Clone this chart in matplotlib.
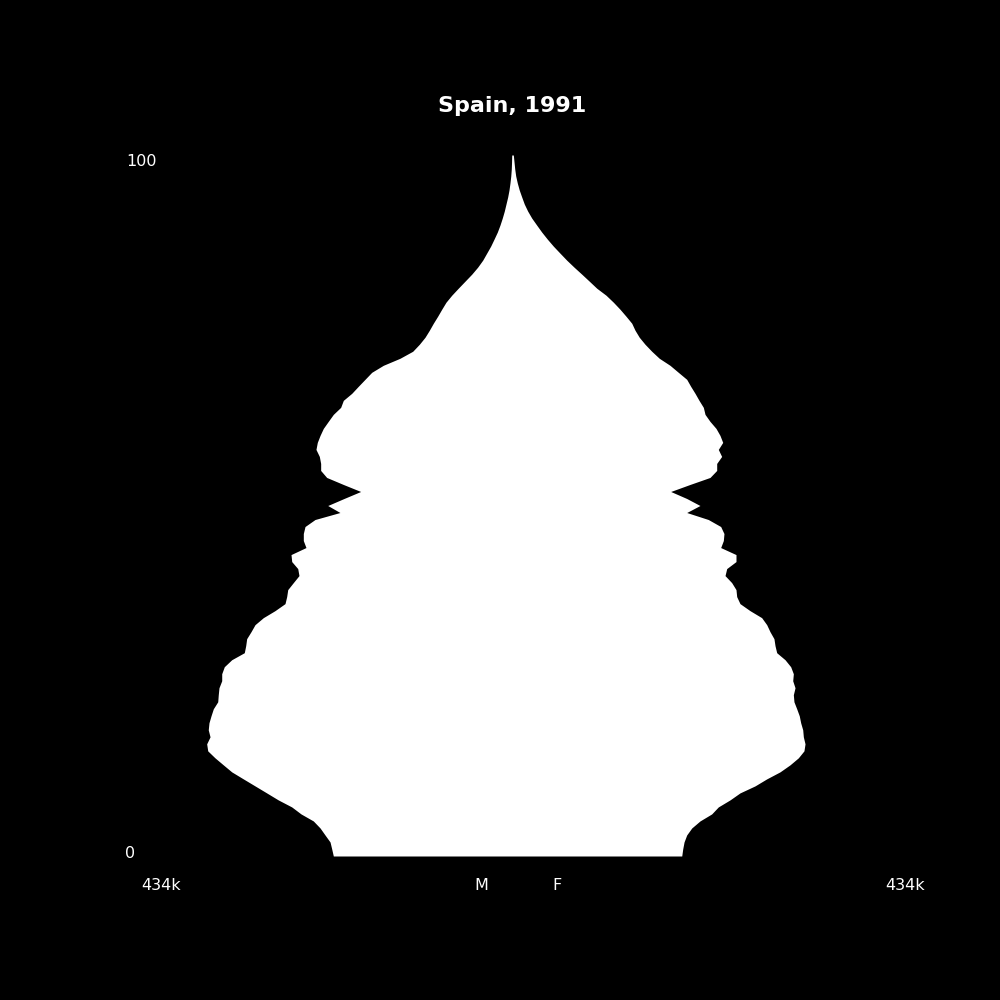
import matplotlib
matplotlib.use("Agg")
import matplotlib.pyplot as plt
import numpy as np

ages = list(range(0, 101))

# population in thousands, ages 0..100
male = [201.9, 203.7, 205.6, 211.3, 216.9, 224.5, 238.4, 248.9, 264.1, 277.2,
        290.4, 303.6, 316.7, 326.2, 335.6, 343.8, 345.0, 341.2, 343.2, 342.4,
        340.1, 337.5, 332.5, 331.9, 331.1, 328.0, 328.0, 325.1, 316.7, 302.5,
        300.9, 299.8, 294.9, 290.4, 281.0, 267.8, 256.5, 254.6, 253.4, 247.1,
        240.7, 242.1, 248.9, 249.7, 232.8, 235.8, 235.8, 233.9, 222.6, 194.4,
        208.2, 189.8, 171.0, 190.6, 209.4, 216.2, 216.2, 217.7, 221.5, 220.0,
        216.9, 213.2, 207.6, 201.9, 193.6, 190.6, 181.1, 173.7, 166.1, 158.5,
        145.4, 126.6, 112.2, 104.7, 98.3, 93.4, 88.9, 84.0, 79.4, 74.6,
        68.1, 60.7, 53.1, 45.5, 38.8, 33.1, 28.6, 24.1, 20.3, 16.6,
        13.6, 11.0, 8.7, 6.8, 4.9, 3.4, 2.3, 1.4, 0.8, 0.5,
        0.3]

female = [191.8, 192.9, 194.4, 197.4, 203.1, 212.4, 225.6, 233.1, 246.3, 257.6,
          274.6, 287.8, 302.8, 314.1, 323.5, 329.9, 331.1, 329.2, 328.5, 326.2,
          324.6, 321.7, 318.6, 317.9, 319.8, 317.2, 317.9, 314.9, 308.5, 299.1,
          297.2, 296.0, 291.5, 287.8, 282.1, 268.9, 257.6, 253.9, 253.1, 248.2,
          240.7, 242.6, 253.1, 253.1, 235.8, 238.8, 239.5, 235.8, 221.8, 197.4,
          212.4, 197.4, 179.3, 201.1, 223.7, 231.3, 231.3, 236.9, 233.1, 238.1,
          235.0, 230.5, 223.7, 218.1, 216.2, 211.3, 206.8, 201.9, 197.4, 187.9,
          178.5, 166.4, 157.9, 150.3, 143.8, 139.0, 135.3, 128.8, 122.0, 114.5,
          106.2, 95.7, 87.3, 78.8, 70.1, 61.8, 54.2, 46.7, 39.9, 33.6,
          27.9, 22.3, 17.7, 13.9, 11.0, 8.2, 6.0, 4.2, 3.1, 2.3,
          1.5]

title = "Spain, 1991"
xmax_label = "434k"
xmax = 434

plt.rcParams['font.family'] = ['DejaVu Sans']

fig = plt.figure(figsize=(10, 10), dpi=100, facecolor='black')
px_per_k = 0.885
center = 512.0
half = px_per_k * xmax
ax = fig.add_axes([(center - half) / 1000, 0.144, 2 * half / 1000, 0.701])
ax.set_facecolor('black')
ax.fill_betweenx(ages, -np.array(male), np.array(female), color='white', lw=0)
ax.set_xlim(-xmax, xmax)
ax.set_ylim(0, 100)
ax.axis('off')

fig.text(0.512, 1 - 0.1055, title, color='white', fontsize=16, fontweight='bold',
         ha='center', va='center')
fig.text(0.126, 1 - 0.1615, "100", color='white', fontsize=11.5, ha='left', va='center')
fig.text(0.125, 1 - 0.854, "0", color='white', fontsize=11.5, ha='left', va='center')
fig.text(0.161, 1 - 0.8855, xmax_label, color='white', fontsize=11.5, ha='center', va='center')
fig.text(0.905, 1 - 0.8855, xmax_label, color='white', fontsize=11.5, ha='center', va='center')
fig.text(0.4815, 1 - 0.8855, "M", color='white', fontsize=11.5, ha='center', va='center')
fig.text(0.557, 1 - 0.8855, "F", color='white', fontsize=11.5, ha='center', va='center')

fig.savefig("out.png", dpi=100, facecolor='black')
